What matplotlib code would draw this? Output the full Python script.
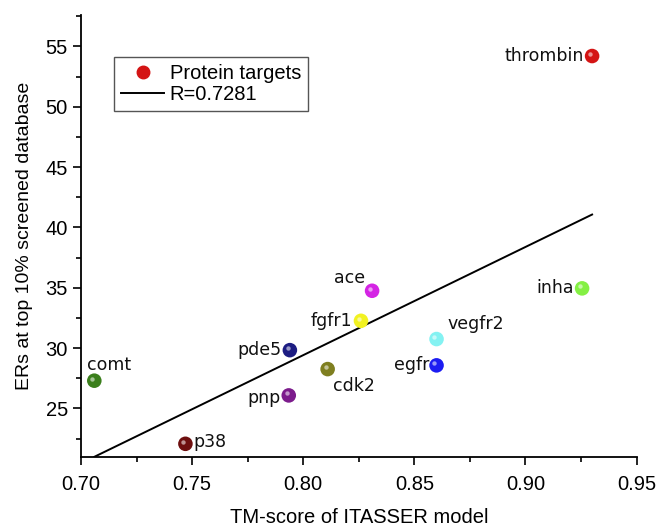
import numpy as np
import matplotlib.pyplot as plt
from matplotlib.lines import Line2D
from matplotlib.ticker import MultipleLocator
from matplotlib.transforms import offset_copy

# Data
targets = ['thrombin', 'comt', 'p38', 'pde5', 'pnp', 'cdk2',
           'ace', 'fgfr1', 'vegfr2', 'egfr', 'inha']
tm_score = [0.930, 0.706, 0.747, 0.794, 0.7935, 0.811,
            0.831, 0.826, 0.860, 0.860, 0.9255]
er_top10 = [54.2, 27.3, 22.07, 29.83, 26.08, 28.26,
            34.75, 32.26, 30.75, 28.57, 34.95]
colors = ['#d41414', '#3b7f1c', '#6e0f0f', '#1c1c82', '#7c1c8c', '#7f7f20',
          '#d424e4', '#f2f222', '#84f2f2', '#1c1cf2', '#84f044']
# label offsets (points) and alignment
label_pos = {
    'thrombin': (-6, 0, 'right', 'center'),
    'comt': (-5, 5, 'left', 'bottom'),
    'p38': (6, 1, 'left', 'center'),
    'pde5': (-6, 0, 'right', 'center'),
    'pnp': (-6, -2, 'right', 'center'),
    'cdk2': (4, -6, 'left', 'top'),
    'ace': (-5, 3, 'right', 'bottom'),
    'fgfr1': (-6, 0, 'right', 'center'),
    'vegfr2': (8, 4, 'left', 'bottom'),
    'egfr': (-5, 0, 'right', 'center'),
    'inha': (-6, 0, 'right', 'center'),
}

plt.rcParams['font.family'] = ['Liberation Sans', 'DejaVu Sans']

fig = plt.figure(figsize=(6.61, 5.28), dpi=100)
ax = fig.add_axes([0.1225, 0.135, 0.8405, 0.8366])

# linear fit
b, a = np.polyfit(tm_score, er_top10, 1)
xs = np.array([min(tm_score), max(tm_score)])
ax.plot(xs, a + b * xs, color='black', lw=1.4, zorder=2)

ax.scatter(tm_score, er_top10, s=110, c=colors, zorder=3, linewidths=0)
# small highlight to mimic the glossy spheres
hl = offset_copy(ax.transData, fig=fig, x=-1.5, y=1.5, units='points')
ax.scatter(tm_score, er_top10, s=10, c='white', alpha=0.55, zorder=4,
           linewidths=0, transform=hl)

for name, x, y in zip(targets, tm_score, er_top10):
    dx, dy, ha, va = label_pos[name]
    ax.annotate(name, (x, y), xytext=(dx, dy), textcoords='offset points',
                ha=ha, va=va, fontsize=12.5, family='DejaVu Sans',
                color='#111111')

ax.set_xlim(0.70, 0.95)
ax.set_ylim(21, 57.6)
ax.xaxis.set_major_locator(MultipleLocator(0.05))
ax.xaxis.set_minor_locator(MultipleLocator(0.025))
ax.yaxis.set_major_locator(MultipleLocator(5))
ax.yaxis.set_minor_locator(MultipleLocator(2.5))
ax.xaxis.set_major_formatter(plt.FormatStrFormatter('%.2f'))
ax.tick_params(which='major', direction='out', length=6, width=1.2,
               labelsize=14.5)
ax.tick_params(axis='x', which='major', pad=7)
ax.tick_params(which='minor', direction='out', length=3.5, width=1.2)
ax.spines['top'].set_visible(False)
ax.spines['right'].set_visible(False)
for s in ['left', 'bottom']:
    ax.spines[s].set_linewidth(1.3)

ax.set_xlabel('TM-score of ITASSER model', fontsize=14.5, labelpad=10)
ax.set_ylabel('ERs at top 10% screened database', fontsize=14, labelpad=9)

handles = [
    Line2D([], [], marker='o', ls='none', color='#d41414', markersize=9),
    Line2D([], [], color='black', lw=1.4),
]
leg = ax.legend(handles, ['Protein targets', 'R=0.7281'], loc='upper left',
                bbox_to_anchor=(0.06, 0.905), fontsize=14.5, fancybox=False,
                framealpha=1, edgecolor='#555555', handlelength=2.1,
                borderpad=0.35, labelspacing=0.1, handletextpad=0.3,
                borderaxespad=0)
leg.get_frame().set_linewidth(1.0)

fig.savefig('out.png', dpi=100)
